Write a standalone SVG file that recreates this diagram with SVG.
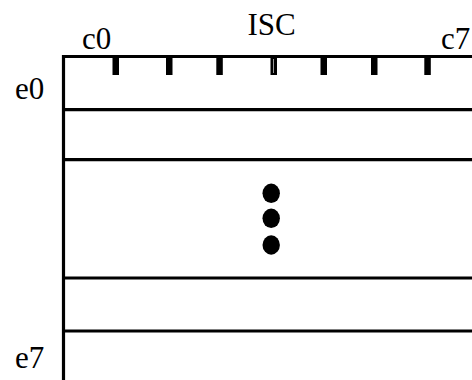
<svg xmlns="http://www.w3.org/2000/svg" width="472" height="380" viewBox="0 0 472 380">
  <style>
    .lbl { font-family: "Liberation Serif", "Times New Roman", serif; font-size: 31px; fill: #000; }
    .edge { stroke: #000; stroke-width: 3.2; fill: none; }
    .tick { fill: #000; }
    .dot { fill: #000; }
  </style>
  <rect width="472" height="380" fill="#fff"/>

  <!-- column and row labels -->
  <g id="labels">
    <text class="lbl" x="271.5" y="35" text-anchor="middle">ISC</text>
    <text class="lbl" x="82" y="49">c0</text>
    <text class="lbl" x="441" y="49">c7</text>
    <text class="lbl" x="15" y="99">e0</text>
    <text class="lbl" x="15" y="368">e7</text>
  </g>

  <!-- frame and row separators -->
  <g id="frame">
    <path class="edge" d="M63.5 380 V56.5 H472"/>
    <line class="edge" x1="63.5" y1="109.7" x2="472" y2="109.7"/>
    <line class="edge" x1="63.5" y1="159.7" x2="472" y2="159.7"/>
    <line class="edge" x1="63.5" y1="278" x2="472" y2="278"/>
    <line class="edge" x1="63.5" y1="331" x2="472" y2="331"/>
  </g>

  <!-- column ticks along the top edge -->
  <g id="ticks">
    <rect class="tick" x="112.5" y="56" width="6.5" height="19"/>
    <rect class="tick" x="166" y="56" width="6.5" height="19"/>
    <rect class="tick" x="216.3" y="56" width="6.5" height="19"/>
    <rect class="tick" x="270.5" y="56" width="6.5" height="19"/>
    <line x1="273.5" y1="59" x2="273.5" y2="73" stroke="#999" stroke-width="1"/>
    <rect class="tick" x="320.5" y="56" width="6.5" height="19"/>
    <rect class="tick" x="371" y="56" width="6.5" height="19"/>
    <rect class="tick" x="424.3" y="56" width="6.5" height="19"/>
  </g>

  <!-- vertical ellipsis between rows -->
  <g id="ellipsis">
    <ellipse class="dot" cx="271.2" cy="193.3" rx="8.7" ry="9.7"/>
    <ellipse class="dot" cx="271.2" cy="218.3" rx="8.7" ry="9.7"/>
    <ellipse class="dot" cx="271.2" cy="245" rx="8.7" ry="9.7"/>
  </g>
</svg>
